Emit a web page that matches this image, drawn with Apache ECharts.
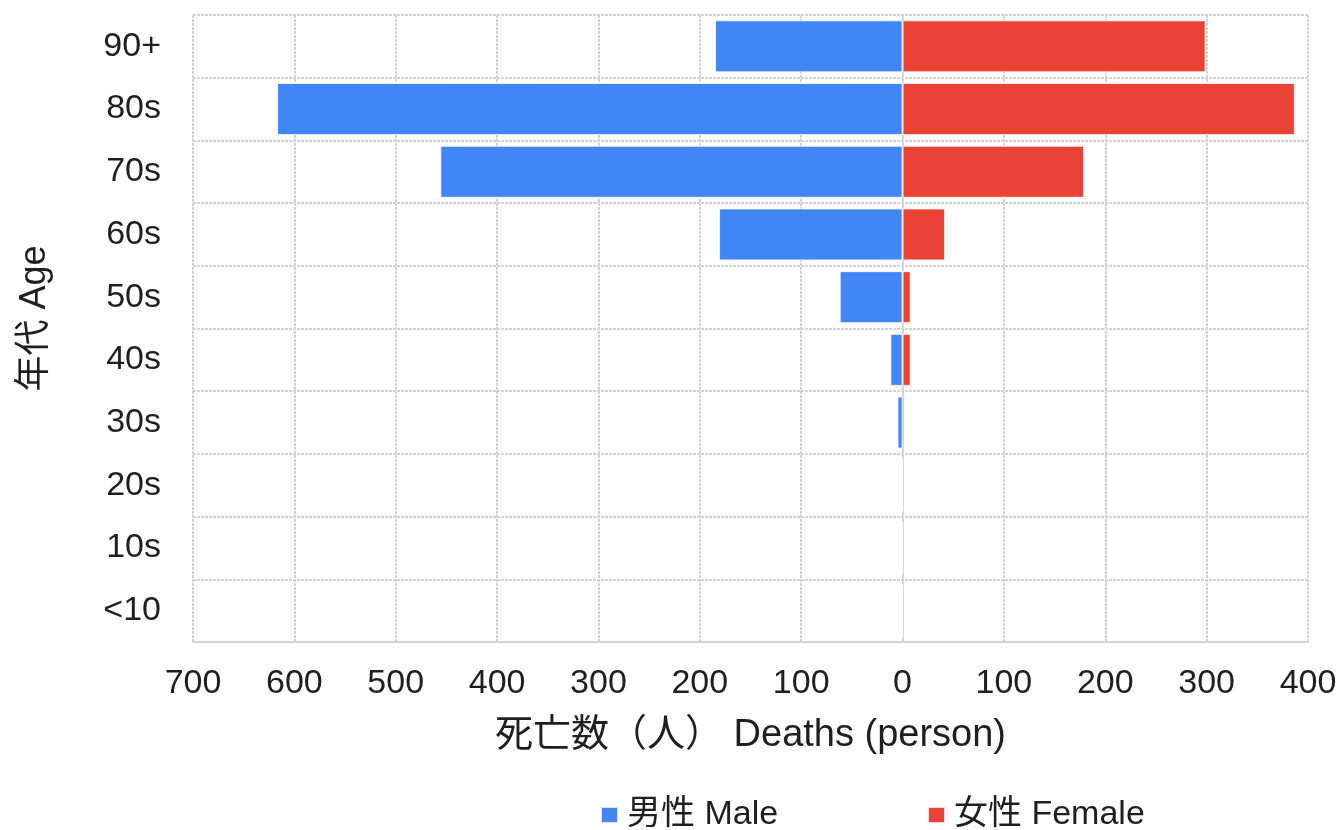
<!DOCTYPE html>
<html>
<head>
<meta charset="utf-8">
<script src="https://cdn.jsdelivr.net/npm/echarts@6/dist/echarts.min.js"></script>
<style>
  html, body { margin: 0; padding: 0; background: #fff; }
  #chart { width: 1344px; height: 830px; }
</style>
</head>
<body>
<div id="chart"></div>
<script>
// Age bands, bottom to top
const ageBands = ['<10', '10s', '20s', '30s', '40s', '50s', '60s', '70s', '80s', '90+'];
// Deaths by age band
const maleDeaths   = [0, 0, 0, 5, 12, 62, 181, 456, 617, 185];
const femaleDeaths = [0, 0, 0, 0, 8, 8, 42, 179, 387, 299];

const seriesNames = ['男性 Male', '女性 Female'];
const xAxisTitle = '死亡数（人） Deaths (person)';
const yAxisTitle = '年代 Age';

const FONT = '"Liberation Sans", Arial, "Noto Sans CJK JP", sans-serif';
const TEXT = '#1f1f1f';
const gridLine = { color: '#d4d4d4', width: 2, type: [3, 1] };

const legendBase = {
  top: 793,
  icon: 'rect',
  itemWidth: 17,
  itemHeight: 16,
  textStyle: { fontSize: 34, color: TEXT, fontFamily: FONT, padding: [0, 0, 0, 4] }
};

const chart = echarts.init(document.getElementById('chart'));
chart.setOption({
  animation: false,
  textStyle: { fontFamily: FONT },
  grid: { left: 193, right: 36, top: 15, bottom: 188 },
  legend: [
    Object.assign({ left: 595, data: [seriesNames[0]] }, legendBase),
    Object.assign({ left: 922, data: [seriesNames[1]] }, legendBase)
  ],
  xAxis: {
    type: 'value',
    min: -700,
    max: 400,
    interval: 100,
    name: xAxisTitle,
    nameLocation: 'middle',
    nameGap: 75,
    nameTextStyle: { fontSize: 38, color: TEXT, fontFamily: FONT },
    axisLine: { show: true, lineStyle: gridLine },
    axisTick: { show: false },
    splitLine: { show: true, lineStyle: gridLine },
    axisLabel: {
      fontSize: 34,
      color: TEXT,
      margin: 25,
      formatter: v => String(Math.abs(v))
    }
  },
  yAxis: {
    type: 'category',
    data: ageBands,
    name: yAxisTitle,
    nameLocation: 'middle',
    nameGap: 140,
    nameTextStyle: { fontSize: 36, color: TEXT, fontFamily: FONT, padding: [0, 0, 0, 20] },
    axisLine: { show: true, lineStyle: gridLine },
    axisTick: { show: false },
    splitLine: { show: true, lineStyle: gridLine },
    axisLabel: { fontSize: 34, color: TEXT, margin: 32 }
  },
  series: [
    {
      name: seriesNames[0],
      type: 'bar',
      stack: 'pyramid',
      barCategoryGap: '17%',
      itemStyle: { color: '#4285F4', borderColor: 'rgba(255,255,255,0.8)', borderWidth: 1 },
      data: maleDeaths.map(v => -v)
    },
    {
      name: seriesNames[1],
      type: 'bar',
      stack: 'pyramid',
      barCategoryGap: '17%',
      itemStyle: { color: '#EA4335', borderColor: 'rgba(255,255,255,0.8)', borderWidth: 1 },
      data: femaleDeaths
    }
  ]
});
</script>
</body>
</html>
